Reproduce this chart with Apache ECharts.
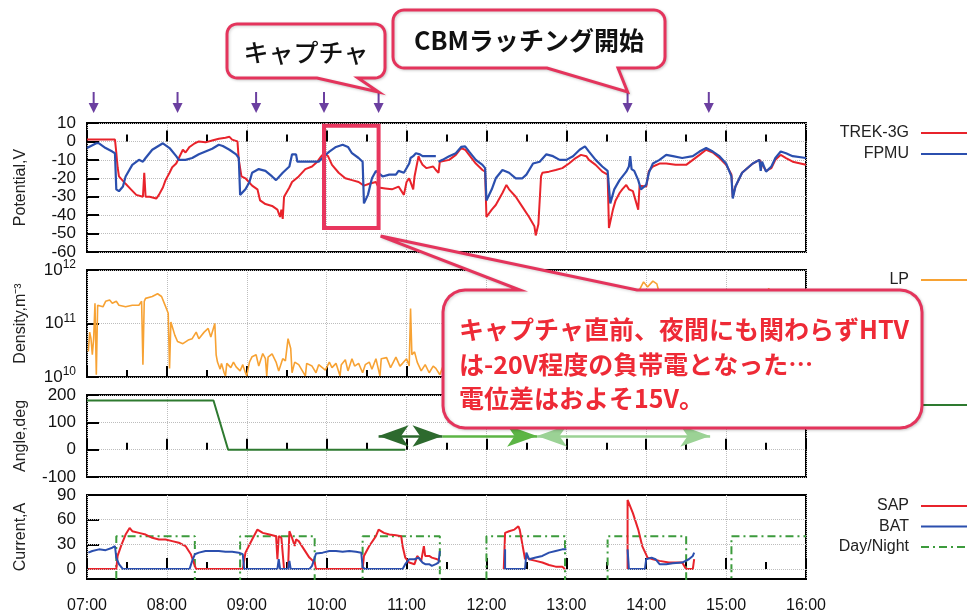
<!DOCTYPE html>
<html>
<head>
<meta charset="utf-8">
<script src="https://cdn.jsdelivr.net/npm/echarts@6/dist/echarts.min.js"></script>
<style>
  html, body { margin: 0; padding: 0; background: #fff; }
  #chart { width: 967px; height: 616px; }
</style>
</head>
<body>
<div id="chart"></div>
<script>
// --- data (time of day, value) ---
const trek3g = [
  ["07:00",1],["07:21",1],["07:22",-6],["07:23",-14],["07:24",-19],["07:29",-23],["07:33",-26],["07:37",-29],
  ["07:42",-30],["07:43",-17],["07:44",-30],["07:47",-30],["07:52",-31],["07:54",-29],["07:57",-25],["07:59",-21],
  ["08:02",-17],["08:04",-14],["08:07",-12],["08:11",-6],["08:12",-4.5],["08:14",-6],["08:17",-3],["08:21",-1],
  ["08:24",0],["08:29",-0.5],["08:34",0.5],["08:39",1.5],["08:44",2],["08:47",2.5],["08:49",1],["08:53",0],
  ["08:54",-10],["08:56",-19],["08:59",-20],["09:04",-24],["09:08",-26],["09:10",-32],["09:14",-34],["09:19",-35],
  ["09:23",-37],["09:25",-41],["09:26",-37],["09:27",-42],["09:28",-30],["09:32",-25],["09:34",-22],["09:39",-19],
  ["09:44",-15],["09:49",-13.6],["09:53",-11],["09:56",-8],["09:58",-6.5],["10:01",-8],["10:04",-12.7],["10:09",-17],
  ["10:14",-20],["10:19",-21],["10:24",-22],["10:28",-24],["10:32",-23],["10:37",-22],["10:39",-25],["10:44",-25.5],
  ["10:49",-26],["10:54",-24.5],["10:58",-29],["11:00",-22],["11:02",-20],["11:05",-26],["11:06",-19],["11:09",-8],
  ["11:10",-10],["11:12",-12.7],["11:15",-14.5],["11:20",-13.6],["11:22",-15.5],["11:24",-17],["11:25",-11],["11:32",-10],
  ["11:37",-7.3],["11:41",-3.6],["11:44",-4.5],["11:47",-7.3],["11:52",-12],["11:57",-15.5],["11:59",-16.4],["12:00",-41],
  ["12:04",-37],["12:07",-34.5],["12:12",-28],["12:15",-23.6],["12:17",-26],["12:22",-30],["12:27",-35.5],["12:32",-41],
  ["12:36",-46],["12:37",-51],["12:39",-45],["12:41",-19],["12:42",-17],["12:47",-16.4],["12:52",-15.5],["12:57",-14.5],
  ["13:02",-12],["13:07",-9],["13:11",-7.3],["13:15",-8],["13:17",-10],["13:22",-12.7],["13:27",-16.4],["13:31",-18],
  ["13:32",-47],["13:35",-37],["13:37",-32],["13:40",-28],["13:42",-26],["13:45",-23.6],["13:47",-26],["13:50",-27],
  ["13:52",-32],["13:54",-37],["13:55",-24],["14:00",-24.5],["14:02",-16],["14:05",-13.6],["14:10",-12],["14:15",-12],
  ["14:22",-12.7],["14:30",-12.7],["14:35",-10],["14:40",-7.3],["14:45",-4.5],["14:50",-6],["14:55",-9],["15:00",-12.7],
  ["15:04",-18],["15:05",-30],["15:07",-24.5],["15:12",-17],["15:20",-12],["15:25",-10],["15:30",-16],["15:34",-14.5],
  ["15:37",-10],["15:41",-7.3],["15:45",-9],["15:50",-11],["16:00",-12.7]
];
const fpmu = [
  ["07:00",-3.6],["07:07",-1],["07:09",-1],["07:14",-3.6],["07:19",-5.5],["07:21",-6.4],["07:22",-26],["07:24",-27],
  ["07:27",-24.5],["07:29",-19],["07:34",-12.7],["07:39",-10],["07:42",-11],["07:44",-9],["07:49",-4.5],["07:57",-1],
  ["08:02",-3.6],["08:07",-8],["08:09",-10],["08:14",-10],["08:19",-9],["08:24",-7],["08:29",-5.5],["08:34",-4],
  ["08:39",-1.8],["08:42",-2.5],["08:47",-4.5],["08:52",-7],["08:54",-9],["08:55",-29],["08:59",-26],["09:02",-22],
  ["09:04",-17],["09:09",-15],["09:14",-16],["09:19",-19],["09:22",-21],["09:27",-17],["09:32",-13.6],["09:34",-7],
  ["09:37",-7],["09:38",-11],["09:44",-11],["09:54",-11],["09:58",-8],["10:02",-5.5],["10:07",-3],["10:12",-1.8],
  ["10:16",-3],["10:19",-6.4],["10:24",-9],["10:27",-11],["10:28",-33.6],["10:31",-29],["10:34",-20],["10:37",-16],
  ["10:42",-19],["10:47",-18],["10:52",-18],["10:54",-16],["10:58",-17],["11:02",-12],["11:03",-9],["11:05",-8],
  ["11:07",-6.4],["11:10",-7],["11:12",-8],["11:22",-8],["11:23",null],["11:24",-11],["11:27",-10],["11:32",-8],
  ["11:37",-6.4],["11:41",-3],["11:44",-2.7],["11:47",-5.5],["11:52",-10],["11:57",-12.7],["11:59",-14.5],["12:00",-32],
  ["12:04",-26],["12:07",-20],["12:12",-15.5],["12:17",-17],["12:22",-20],["12:27",-20],["12:30",-18],["12:35",-12],
  ["12:40",-11],["12:45",-7],["12:50",-8],["12:55",-10],["13:00",-10],["13:05",-8],["13:10",-4.5],["13:14",-2.7],
  ["13:17",-5.5],["13:22",-10],["13:27",-13.6],["13:31",-16],["13:33",-33.6],["13:36",-26],["13:40",-21],["13:45",-16.4],
  ["13:47",-13.6],["13:48",-8],["13:49",-15],["13:51",-16],["13:54",-21],["13:56",-26],["14:00",-23.6],["14:02",-17],
  ["14:05",-12],["14:10",-10],["14:15",-7.3],["14:20",-8],["14:27",-9],["14:35",-8],["14:40",-5.5],["14:45",-3.6],
  ["14:50",-5.5],["14:55",-8],["15:00",-12],["15:04",-19],["15:05",-31],["15:07",-24.5],["15:12",-17],["15:20",-12],
  ["15:25",-10],["15:26",-16],["15:27",-11],["15:30",-16.4],["15:34",-13.6],["15:37",-9],["15:41",-5.5],["15:45",-6.4],
  ["15:50",-8],["16:00",-9]
];
const lpDensity = [
  ["07:01",3.0e10],["07:02",6.9e10],["07:03",5.2e10],["07:04",2.6e10],["07:05",5.2e10],["07:06",2.4e11],["07:07",1.1e10],
  ["07:08",2.2e11],["07:12",2.05e11],["07:14",2.6e11],["07:17",2.75e11],["07:19",2.4e11],["07:22",2.6e11],["07:24",2.2e11],
  ["07:29",2.05e11],["07:34",2.2e11],["07:39",2.2e11],["07:41",2.6e11],["07:42",1.7e10],["07:43",2.6e11],["07:44",2.95e11],
  ["07:49",3.2e11],["07:53",3.6e11],["07:56",3.2e11],["07:58",2.4e11],["08:01",1.55e11],["08:02",1.45e10],["08:03",1.07e11],
  ["08:06",6.0e10],["08:08",4.6e10],["08:12",4.2e10],["08:16",4.9e10],["08:19",5.2e10],["08:22",6.9e10],["08:24",5.2e10],
  ["08:28",6.9e10],["08:31",8.1e10],["08:33",5.6e10],["08:36",1.0e11],["08:37",2.6e10],["08:38",1.9e10],["08:40",1.4e10],
  ["08:41",1.8e10],["08:43",1.2e10],["08:44",1.05e10],["08:45",1.8e10],["08:48",1.5e10],["08:50",1.9e10],["08:52",1.55e10],
  ["08:55",1.3e10],["08:57",1.7e10],["08:59",1.2e10],["09:00",1.05e10],["09:02",1.9e10],["09:04",2.4e10],["09:07",2.6e10],
  ["09:09",1.6e10],["09:12",2.75e10],["09:14",2.2e10],["09:15",1.05e10],["09:16",2.35e10],["09:19",2.7e10],["09:22",1.9e10],
  ["09:24",1.3e10],["09:27",2.2e10],["09:29",2.0e10],["09:31",5.2e10],["09:33",3.4e10],["09:34",1.2e10],["09:36",1.9e10],
  ["09:39",1.7e10],["09:41",1.4e10],["09:44",1.05e10],["09:45",1.8e10],["09:49",1.6e10],["09:52",1.2e10],["09:54",1.7e10],
  ["09:59",1.35e10],["10:02",1.9e10],["10:04",1.5e10],["10:07",1.8e10],["10:10",1.05e10],["10:11",1.7e10],["10:14",2.1e10],
  ["10:16",1.3e10],["10:19",2.2e10],["10:21",1.6e10],["10:24",1.8e10],["10:27",1.2e10],["10:29",1.7e10],["10:32",1.9e10],
  ["10:34",1.4e10],["10:37",2.2e10],["10:40",1.05e10],["10:41",2.2e10],["10:45",2.3e10],["10:48",1.5e10],["10:52",2.35e10],
  ["10:55",1.6e10],["10:57",1.8e10],["11:00",2.2e10],["11:02",1.6e10],["11:03",1.9e11],["11:04",2.6e10],["11:06",2.95e10],
  ["11:08",1.9e10],["11:11",1.3e10],["11:14",1.7e10],["11:17",1.2e10],["11:20",1.6e10],["11:22",1.45e10],["11:25",1.1e10],
  ["11:27",1.5e10],["11:45",1.7e10],["12:15",2.0e10],["12:45",1.8e10],["13:15",2.2e10],["13:45",2.5e10],["13:54",3.0e10],
  ["13:55",4.3e11],["13:58",6.0e11],["14:01",4.8e11],["14:05",6.2e11],["14:08",5.5e11],["14:10",3.5e11],["14:11",3.0e10],
  ["14:40",2.5e10],["15:10",2.2e10],["15:30",2.5e10],["15:32",4.6e11],["15:34",2.5e10],["16:00",2.0e10]
];
const angleDeg = [["07:00",180],["08:35",180],["08:46",0],["10:59",0]];
const sapCurrent = [
  ["07:01",0],["07:22",0],["07:23",16],["07:26",30],["07:29",42],["07:32",50],["07:34",46],["07:39",44],["07:44",42],
  ["07:49",38],["07:54",36],["07:59",36],["08:04",34],["08:09",32],["08:14",28],["08:18",18],["08:21",4],["08:22",0],
  ["08:57",0],["08:59",20],["09:04",36],["09:08",48],["09:12",44],["09:17",42],["09:22",40],["09:23",12],["09:24",40],
  ["09:26",38],["09:27",40],["09:28",0],["09:31",0],["09:32",46],["09:34",38],["09:36",28],["09:37",36],["09:39",34],
  ["09:43",24],["09:47",14],["09:51",8],["09:52",0],["10:27",0],["10:28",16],["10:32",28],["10:37",40],["10:39",48],
  ["10:43",44],["10:47",42],["10:52",41],["10:56",40],["10:57",28],["10:59",14],["11:02",8],["11:06",6],["11:08",16],
  ["11:11",10],["11:13",28],["11:14",16],["11:17",16],["11:19",14],["11:23",12],["11:25",10],["11:26",null],
  ["12:13",0],["12:14",44],["12:17",46],["12:21",48],["12:24",52],["12:25",48],["12:29",12],["12:30",16],["12:32",12],
  ["12:37",10],["12:42",8],["12:47",5],["12:52",3],["12:57",3],["12:59",0],["13:00",null],
  ["13:46",0],["13:46",84],["13:50",68],["13:54",48],["13:57",28],["14:01",14],["14:05",12],["14:10",10],["14:17",8],
  ["14:27",8],["14:30",0],["14:35",0],["14:36",12]
];
const batCurrent = [
  ["07:01",20],["07:04",22],["07:09",24],["07:14",23],["07:19",26],["07:21",28],["07:22",14],["07:24",6],["07:27",0],
  ["08:17",0],["08:19",10],["08:21",18],["08:24",20],["08:29",22],["08:34",22],["08:39",22],["08:44",21],["08:49",21],
  ["08:54",20],["08:57",18],["08:58",0],["09:23",0],["09:24",12],["09:25",0],["09:31",0],["09:32",10],["09:33",0],
  ["09:47",0],["09:49",4],["09:52",19],["09:57",20],["10:02",22],["10:07",22],["10:12",21],["10:17",22],["10:22",21],
  ["10:26",20],["10:27",2],["10:29",0],["10:57",0],["10:59",6],["11:02",12],["11:06",12],["11:09",14],["11:12",8],
  ["11:14",6],["11:17",6],["11:19",4],["11:22",6],["11:24",8],["11:25",22],["11:26",null],
  ["12:14",24],["12:14",0],["12:29",0],["12:30",20],["12:32",12],["12:37",14],["12:42",16],["12:47",20],["12:52",22],
  ["12:57",24],["13:00",24],["13:01",null],
  ["13:46",24],["13:47",0],["13:59",0],["14:00",12],["14:04",14],["14:07",12],["14:10",6],["14:15",6],["14:20",7],
  ["14:27",8],["14:32",12],["14:35",16],["14:36",20]
];
const dayNight = [
  ["07:00",-20],["07:22",-20],["07:22",40],["08:21",40],["08:21",-20],["08:55",-20],["08:55",40],["09:51",40],
  ["09:51",-20],["10:27",-20],["10:27",40],["11:25",40],["11:25",-20],["12:00",-20],["12:00",40],["12:59",40],
  ["12:59",-20],["13:31",-20],["13:31",40],["14:30",40],["14:30",-20],["15:04",-20],["15:04",40],["16:00",40]
];
// orbit event markers above the top panel
const eventMarks = ["07:05","08:08","09:07","09:58","10:39","13:46","14:47"];
// attitude arrows in the angle panel (tip to tip)
const rollArrows = [["10:39","11:27"],["11:27","12:38"],["12:38","14:48"]];
const captureBox = { from: "09:58", to: "10:39", top: 8.5, bottom: -47 };

const FONT = "'Liberation Sans', Arial, sans-serif";
const JP = "'Noto Sans CJK JP', sans-serif";
const PINK = "#E4345C";

const toMin = (t) => {
  const [h, m] = t.split(":").map(Number);
  return (h - 7) * 60 + m;
};
const toXY = (rows) => rows.map(([t, v]) => [toMin(t), v === null ? "-" : v]);

const panels = [
  { top: 123, height: 129 },
  { top: 270, height: 107 },
  { top: 395, height: 82 },
  { top: 495, height: 84 },
];

const dotted = { show: true, lineStyle: { type: "dotted", color: "#bdbdbd", width: 1 } };
const inTick = { inside: true, length: 12, lineStyle: { color: "#000", width: 2 } };

const chart = echarts.init(document.getElementById("chart"));

const option = {
  animation: false,
  backgroundColor: "#fff",
  textStyle: { fontFamily: FONT },
  grid: panels.map((p) => ({
    left: 87, right: 161, top: p.top, height: p.height,
    show: true, borderColor: "#000", borderWidth: 2,
  })),
  xAxis: panels.map((p, i) => ({
    type: "value", gridIndex: i, min: 0, max: 540, interval: 60,
    axisLine: { show: false },
    axisTick: { inside: true, length: 11, lineStyle: { color: "#000", width: 2 } },
    minorTick: { show: true, splitNumber: 2, length: 7, lineStyle: { color: "#000", width: 2 } },
    splitLine: dotted,
    axisLabel: {
      show: i === 3, fontSize: 16, color: "#111", margin: 19,
      formatter: (v) => {
        const h = 7 + v / 60;
        return (h < 10 ? "0" : "") + h + ":00";
      },
    },
  })),
  yAxis: [
    {
      type: "value", gridIndex: 0, min: -60, max: 10, interval: 10,
      name: "Potential,V", nameLocation: "middle", nameGap: 58,
      nameTextStyle: { fontSize: 16, color: "#222" },
      axisLine: { show: false }, axisTick: inTick, splitLine: dotted,
      axisLabel: { fontSize: 17, color: "#111", margin: 11 },
    },
    {
      type: "log", gridIndex: 1, min: 1e10, max: 1e12, logBase: 10,
      name: "Density,m⁻³", nameLocation: "middle", nameGap: 58,
      nameTextStyle: { fontSize: 16, color: "#222" },
      axisLine: { show: false }, axisTick: inTick, splitLine: dotted,
      axisLabel: {
        margin: 11,
        formatter: (v) => "{b|10}{s|" + Math.round(Math.log10(v)) + "}",
        rich: {
          b: { fontSize: 17, color: "#111", lineHeight: 22, fontFamily: FONT },
          s: { fontSize: 12, color: "#111", lineHeight: 14, verticalAlign: "top", fontFamily: FONT },
        },
      },
    },
    {
      type: "value", gridIndex: 2, min: -100, max: 200, interval: 100,
      name: "Angle,deg", nameLocation: "middle", nameGap: 58,
      nameTextStyle: { fontSize: 16, color: "#222" },
      axisLine: { show: false }, axisTick: inTick, splitLine: dotted,
      axisLabel: { fontSize: 17, color: "#111", margin: 11 },
    },
    {
      type: "value", gridIndex: 3, min: -12, max: 90,
      name: "Current,A", nameLocation: "middle", nameGap: 58,
      nameTextStyle: { fontSize: 16, color: "#222" },
      axisLine: { show: false },
      axisTick: { ...inTick, customValues: [0, 30, 60] },
      splitLine: { show: false },
      axisLabel: { fontSize: 17, color: "#111", margin: 11, customValues: [0, 30, 60, 90] },
    },
  ],
  legend: [
    { data: ["TREK-3G", "FPMU"], top: 125 },
    { data: ["LP"], top: 272 },
    { data: ["Angle"], top: 398, formatter: () => "" },
    { data: ["SAP", "BAT", "Day/Night"], top: 498, itemGap: 4.5 },
  ].map((l) => ({
    orient: "vertical", align: "right", right: -5, padding: 0,
    itemWidth: 50, itemHeight: 14, itemGap: 5, selectedMode: false,
    itemStyle: { opacity: 0, borderWidth: 0 },
    textStyle: { fontSize: 16, color: "#222", fontFamily: FONT, padding: [0, 7, 0, 0] },
    ...l,
  })),
  series: [
    {
      name: "TREK-3G", type: "line", xAxisIndex: 0, yAxisIndex: 0, data: toXY(trek3g),
      symbol: "none", color: "#E8232B", lineStyle: { width: 2 }, z: 3,
    },
    {
      name: "FPMU", type: "line", xAxisIndex: 0, yAxisIndex: 0, data: toXY(fpmu),
      symbol: "none", color: "#2B4FAE", lineStyle: { width: 2.2 }, z: 4,
    },
    {
      name: "LP", type: "line", xAxisIndex: 1, yAxisIndex: 1, data: toXY(lpDensity),
      symbol: "none", color: "#F7A233", lineStyle: { width: 1.6 }, z: 3,
    },
    {
      name: "Angle", type: "line", xAxisIndex: 2, yAxisIndex: 2, data: toXY(angleDeg),
      symbol: "none", color: "#2E7A30", lineStyle: { width: 2 }, z: 3,
      markLine: {
        silent: true, symbolSize: [16, 30], label: { show: false },
        data: rollArrows.map(([a, b], i) => {
          const col = ["#2D6A2E", "#5CB545", "#9BD295"][i];
          const ls = { color: col, width: 2.5, type: "solid" };
          return [
            { coord: [toMin(a), 50], symbol: i === 1 ? "none" : "arrow", lineStyle: ls },
            { coord: [toMin(b), 50], symbol: "arrow", lineStyle: ls },
          ];
        }),
      },
    },
    {
      name: "SAP", type: "line", xAxisIndex: 3, yAxisIndex: 3, data: toXY(sapCurrent),
      symbol: "none", color: "#E8232B", lineStyle: { width: 2 }, z: 3,
    },
    {
      name: "BAT", type: "line", xAxisIndex: 3, yAxisIndex: 3, data: toXY(batCurrent),
      symbol: "none", color: "#2B4FAE", lineStyle: { width: 2 }, z: 4,
    },
    {
      name: "Day/Night", type: "line", xAxisIndex: 3, yAxisIndex: 3, data: toXY(dayNight),
      symbol: "none", color: "#3C9B3C", lineStyle: { width: 2, type: [8, 4, 2, 4] }, z: 2,
      markLine: {
        silent: true, symbol: "none", label: { show: false },
        lineStyle: { type: "dotted", color: "#bdbdbd", width: 1 },
        data: [{ yAxis: 0 }, { yAxis: 30 }, { yAxis: 60 }],
      },
    },
  ],
};

chart.setOption(option);

// --- annotations: callouts, event arrows, capture window ---
function calloutPoints(x, y, w, h, r, tail) {
  const pts = [];
  const arc = (cx, cy, a0) => {
    for (let i = 0; i <= 6; i++) {
      const a = ((a0 + i * 15) * Math.PI) / 180;
      pts.push([cx + r * Math.cos(a), cy + r * Math.sin(a)]);
    }
  };
  arc(x + r, y + r, 180);
  if (tail.side === "top") pts.push([tail.a, y], tail.tip, [tail.b, y]);
  arc(x + w - r, y + r, 270);
  arc(x + w - r, y + h - r, 0);
  if (tail.side === "bottom") pts.push([tail.b, y + h], tail.tip, [tail.a, y + h]);
  arc(x + r, y + h - r, 90);
  return pts;
}

const xOf = (t) => chart.convertToPixel({ xAxisIndex: 0 }, toMin(t));
const graphics = [];

eventMarks.forEach((t) => {
  const x = xOf(t);
  graphics.push(
    { type: "line", z: 100, shape: { x1: x, y1: 92, x2: x, y2: 105 }, style: { stroke: "#6B3FA0", lineWidth: 2 } },
    { type: "polygon", z: 100, shape: { points: [[x - 5, 103], [x + 5, 103], [x, 113]] }, style: { fill: "#6B3FA0" } }
  );
});

const p1 = chart.convertToPixel({ gridIndex: 0 }, [toMin(captureBox.from), captureBox.top]);
const p2 = chart.convertToPixel({ gridIndex: 0 }, [toMin(captureBox.to), captureBox.bottom]);
graphics.push({
  type: "rect", z: 100,
  shape: { x: p1[0], y: p1[1], width: p2[0] - p1[0], height: p2[1] - p1[1] },
  style: { fill: "none", stroke: "#E8365E", lineWidth: 4 },
});

const boxStyle = {
  fill: "#fff", stroke: PINK, lineWidth: 3,
  shadowBlur: 3, shadowColor: "rgba(0,0,0,0.18)", shadowOffsetX: 1, shadowOffsetY: 1,
};
const capX = xOf(eventMarks[4]);
const cbmX = xOf(eventMarks[5]);
graphics.push(
  {
    type: "polygon", z: 100,
    shape: { points: calloutPoints(227, 24, 158, 54, 10, { side: "bottom", a: 317, b: 358, tip: [capX, 92] }) },
    style: boxStyle,
  },
  {
    type: "text", z: 101,
    style: { text: "キャプチャ", x: 306, y: 52, fill: "#111", font: `500 25px ${JP}`, align: "center", verticalAlign: "middle" },
  },
  {
    type: "polygon", z: 100,
    shape: { points: calloutPoints(393, 10, 272, 58, 11, { side: "bottom", a: 547, b: 618, tip: [cbmX, 92] }) },
    style: boxStyle,
  },
  {
    type: "text", z: 101,
    style: { text: "CBMラッチング開始", x: 529, y: 40, fill: "#111", font: `bold 25px ${JP}`, align: "center", verticalAlign: "middle" },
  },
  {
    type: "polygon", z: 100,
    shape: { points: calloutPoints(443, 290, 479, 138, 22, { side: "top", a: 520, b: 637, tip: [p2[0] + 2, p2[1] + 8] }) },
    style: boxStyle,
  }
);
[
  ["キャプチャ直前、夜間にも関わらずHTV", 329],
  ["は-20V程度の負帯電となった…", 364],
  ["電位差はおよそ15V。", 398],
].forEach(([text, y]) => {
  graphics.push({
    type: "text", z: 101,
    style: { text, x: 459, y, fill: "#EE2A36", font: `bold 25px ${JP}`, align: "left", verticalAlign: "middle" },
  });
});

chart.setOption({ graphic: graphics });
</script>
</body>
</html>
